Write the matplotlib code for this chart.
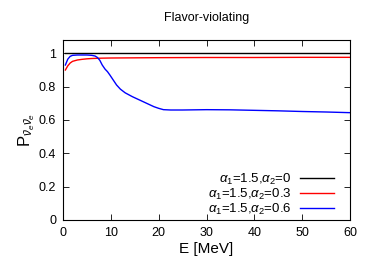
import matplotlib
matplotlib.use("Agg")
import matplotlib.pyplot as plt

plt.rcParams['font.family'] = ['Liberation Sans', 'DejaVu Sans']
plt.rcParams['mathtext.fontset'] = 'custom'
plt.rcParams['mathtext.rm'] = 'Liberation Sans'
plt.rcParams['mathtext.it'] = 'Liberation Sans:italic'

title = "Flavor-violating"
xlabel = "E [MeV]"
ylabel = r"P$_{\bar{\nu}_e\bar{\nu}_e}$"
labels = [r"$\alpha_1$=1.5,$\alpha_2$=0",
          r"$\alpha_1$=1.5,$\alpha_2$=0.3",
          r"$\alpha_1$=1.5,$\alpha_2$=0.6"]
colors = ["black", "red", "blue"]

E_black = [0.5, 60]
P_black = [1.0, 1.0]

E_red = [0.5, 1.0, 1.5, 2.0, 3.0, 4.0, 5.0, 6.0, 8.0, 10.0, 15.0, 20.0, 30.0, 40.0, 50.0, 60.0]
P_red = [0.90, 0.925, 0.942, 0.952, 0.960, 0.964, 0.967, 0.969, 0.971, 0.972, 0.973, 0.974, 0.975, 0.975, 0.976, 0.976]

E_blue = [0.5, 1.0, 1.5, 2.0, 3.0, 4.0, 5.0, 6.0, 6.7, 7.2, 7.7, 8.2, 8.8, 9.3, 9.8, 10.5, 11.2, 12.0,
          13.0, 14.5, 16.0, 17.5, 19.0, 20.0, 21.0, 22.5, 25.0, 30.0, 35.0, 40.0, 45.0, 50.0, 55.0, 60.0]
P_blue = [0.93, 0.965, 0.982, 0.988, 0.990, 0.990, 0.990, 0.988, 0.984, 0.975, 0.958, 0.93, 0.905, 0.89, 0.87, 0.84, 0.81, 0.785,
          0.763, 0.74, 0.72, 0.70, 0.68, 0.670, 0.662, 0.660, 0.660, 0.662, 0.661, 0.658, 0.655, 0.651, 0.648, 0.644]

fig = plt.figure(figsize=(3.74, 2.62), dpi=100)
ax = fig.add_axes([63/374, 1 - 220/262, 287/374, 180/262])

ax.plot(E_black, P_black, color=colors[0], lw=1.0, label=labels[0])
ax.plot(E_red, P_red, color=colors[1], lw=1.0, label=labels[1])
ax.plot(E_blue, P_blue, color=colors[2], lw=1.0, label=labels[2])

ax.set_xlim(0, 60)
ax.set_ylim(0, 1.08)
ax.set_xticks([0, 10, 20, 30, 40, 50, 60])
ax.set_yticks([0, 0.2, 0.4, 0.6, 0.8, 1.0])
ax.set_yticklabels(["0", "0.2", "0.4", "0.6", "0.8", "1"])
ax.tick_params(direction='in', top=True, right=True, labelsize=9, length=4, width=0.6, pad=5)
for s in ax.spines.values():
    s.set_linewidth(0.8)

ax.set_title(title, fontsize=9, pad=14)
ax.set_xlabel(xlabel, fontsize=11, labelpad=2)
ax.set_ylabel(ylabel, fontsize=12, labelpad=1)

leg = ax.legend(loc='lower right', frameon=False, fontsize=9.5, markerfirst=False,
                handlelength=2.6, handletextpad=0.6, labelspacing=0.0,
                borderaxespad=0.0, borderpad=0.0,
                bbox_to_anchor=(271/287, 3/180))
for t in leg.get_texts():
    t.set_ha('right')

fig.savefig("out.png", dpi=100)
